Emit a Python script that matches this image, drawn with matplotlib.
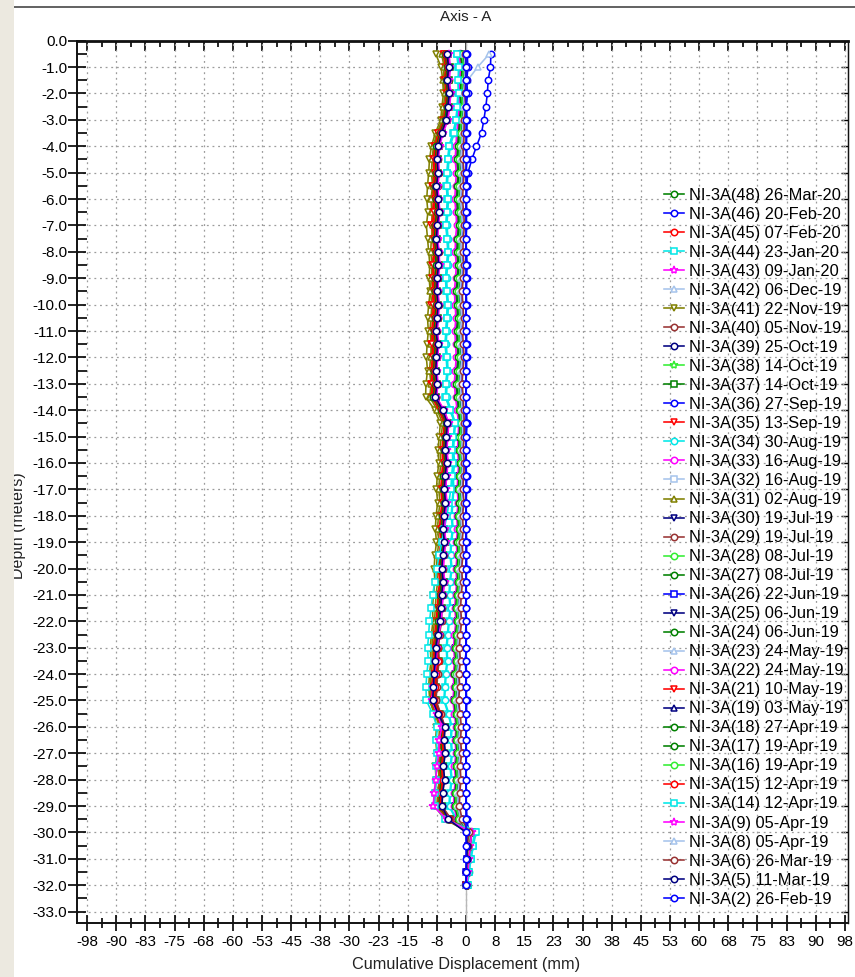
import numpy as np
import matplotlib.pyplot as plt
from matplotlib.patches import Rectangle
from matplotlib.lines import Line2D
from matplotlib.ticker import MultipleLocator, FixedLocator, FuncFormatter

plt.rcParams['font.family'] = ['Liberation Sans', 'DejaVu Sans']

# probe reading depths, m
depth = [0.5, 1.0, 1.5, 2.0, 2.5, 3.0, 3.5, 4.0, 4.5, 5.0, 5.5, 6.0, 6.5, 7.0, 7.5, 8.0,
         8.5, 9.0, 9.5, 10.0, 10.5, 11.0, 11.5, 12.0, 12.5, 13.0, 13.5, 14.0, 14.5, 15.0, 15.5, 16.0,
         16.5, 17.0, 17.5, 18.0, 18.5, 19.0, 19.5, 20.0, 20.5, 21.0, 21.5, 22.0, 22.5, 23.0, 23.5, 24.0,
         24.5, 25.0, 25.5, 26.0, 26.5, 27.0, 27.5, 28.0, 28.5, 29.0, 29.5, 30.0, 30.5, 31.0, 31.5, 32.0]

# cumulative displacement per reading, mm (top -> bottom)
s48 = [-5.8, -5.1, -4.7, -4.9, -5.2, -5.6, -7.0,
       -7.9, -8.1, -7.8, -8.3, -8.0, -7.7, -8.2, -8.4, -8.0, -7.8, -8.1, -8.3, -7.9, -8.2, -8.5, -8.1, -8.4, -8.6, -8.3, -8.7,
       -6.8, -5.4,
       -5.7, -6.0, -5.8, -6.1, -6.3, -6.0, -6.4, -6.6, -6.3, -6.7, -6.9, -6.6, -7.0, -7.2, -7.4,
       -7.8, -8.1, -7.9, -8.4, -8.7, -8.9, -7.4, -6.2,
       -6.5, -6.3, -6.7, -6.4, -6.8, -7.0, -4.8,
       1.4, 1.0, 0.7, 0.4, 0.2]
s46 = [6.4, 6.3, 5.7, 5.5, 5.1, 4.6, 4.0,
       2.7, 1.5, 0.5, 0.2, 0.1, 0.2, 0.0, 0.1, -0.1, 0.0, 0.2, 0.1, -0.1, 0.0, 0.1, 0.2, 0.0, -0.1, 0.1, 0.0,
       0.1, 0.2,
       0.1, 0.0, -0.1, 0.1, 0.2, 0.0, 0.1, -0.1, 0.0, 0.1, 0.2, 0.0, -0.1, 0.1, 0.0,
       0.1, 0.0, -0.1, 0.1, 0.0, 0.2, 0.1, 0.0,
       0.1, -0.1, 0.0, 0.1, 0.0, 0.1, 0.2,
       0.6, 0.4, 0.3, 0.1, 0.0]
s45 = [-5.4, -4.8, -5.2, -4.6, -5.0, -5.3, -6.8,
       -7.6, -7.9, -8.2, -7.8, -8.1, -8.4, -8.0, -7.7, -8.2, -8.5, -8.1, -7.9, -8.3, -8.0, -8.4, -8.6, -8.2, -8.5, -8.7, -8.4,
       -6.3, -4.9,
       -5.3, -5.5, -5.2, -5.6, -5.9, -5.7, -6.0, -6.2, -5.9, -6.3, -6.5, -6.2, -6.6, -6.8, -7.0,
       -7.3, -7.6, -7.4, -7.8, -8.0, -8.3, -7.0, -5.9,
       -6.2, -6.0, -6.4, -6.1, -6.5, -6.7, -4.2,
       1.2, 0.9, 0.6, 0.4, 0.2]
s44 = [-2.4, -2.0, -1.8, -2.1, -2.3, -2.6, -3.4,
       -4.4, -4.7, -4.9, -5.1, -4.8, -5.0, -5.2, -4.9, -4.7, -5.0, -5.3, -5.1, -4.8, -5.0, -5.2, -5.4, -5.1, -4.9, -5.2, -5.3,
       -4.1, -2.9,
       -3.2, -3.4, -3.1, -3.5, -3.3, -3.6, -3.8, -3.5, -3.9, -4.1, -3.8, -4.2, -4.4, -4.1, -4.5,
       -4.8, -5.1, -4.9, -5.3, -5.5, -5.7, -4.6, -3.8,
       -4.0, -3.7, -4.1, -3.8, -4.2, -4.4, -2.6,
       2.4, 1.8, 1.2, 0.8, 0.4]
s43 = [-1.2, -0.8, -1.0, -1.3, -1.1, -1.4, -1.7,
       -1.9, -2.1, -1.8, -2.0, -2.2, -1.9, -1.7, -2.0, -2.1, -1.8, -2.0, -2.3, -2.1, -1.9, -2.2, -2.0, -1.8, -2.1, -2.3, -2.0,
       -1.6, -1.2,
       -1.4, -1.6, -1.3, -1.5, -1.7, -1.4, -1.8, -1.6, -1.9, -1.7, -2.0, -1.8, -2.1, -2.3, -2.0,
       -2.4, -2.6, -2.3, -2.7, -2.5, -2.8, -2.4, -2.1,
       -2.3, -2.0, -2.4, -2.2, -2.5, -2.6, -1.8,
       1.0, 0.7, 0.5, 0.3, 0.1]
s42 = [6.0, 3.0, 0.4, -0.5, -0.8, -0.9, -1.2,
       -1.5, -1.7, -1.4, -1.6, -1.8, -1.5, -1.3, -1.6, -1.7, -1.4, -1.6, -1.9, -1.7, -1.5, -1.8, -1.6, -1.4, -1.7, -1.9, -1.6,
       -1.3, -1.0,
       -1.1, -1.3, -1.0, -1.2, -1.4, -1.1, -1.5, -1.3, -1.6, -1.4, -1.7, -1.5, -1.8, -2.0, -1.7,
       -2.0, -2.2, -1.9, -2.3, -2.1, -2.4, -2.0, -1.8,
       -2.0, -1.7, -2.1, -1.9, -2.2, -2.3, -1.5,
       1.1, 0.8, 0.5, 0.3, 0.1]
s41 = [-7.8, -6.4, -6.0, -5.8, -6.2, -6.5, -7.9,
       -8.9, -9.4, -9.6, -9.9, -10.1, -9.8, -10.2, -9.9, -9.6, -9.3, -9.5, -9.2, -9.6, -9.9, -9.7, -10.0, -10.2, -9.9, -10.3, -10.4,
       -8.0, -6.6,
       -6.9, -7.2, -7.0, -7.4, -7.6, -7.3, -7.7, -7.9, -7.6, -8.0, -8.2, -8.0, -8.4, -8.6, -8.5,
       -8.9, -9.2, -9.0, -9.4, -9.6, -9.3, -8.2, -7.6,
       -7.8, -7.5, -7.9, -7.7, -8.0, -8.1, -5.5,
       0.8, 0.5, 0.3, 0.2, 0.0]
s40 = [-5.0, -4.5, -4.3, -4.6, -4.9, -5.1, -6.4,
       -7.2, -7.5, -7.3, -7.7, -7.4, -7.6, -7.9, -7.5, -7.3, -7.7, -7.8, -7.5, -7.9, -7.6, -7.8, -8.0, -7.7, -7.9, -8.1, -7.8,
       -6.0, -4.8,
       -5.0, -5.2, -4.9, -5.3, -5.5, -5.2, -5.6, -5.8, -5.5, -5.9, -6.1, -5.8, -6.2, -6.4, -6.6,
       -7.0, -7.3, -7.1, -7.5, -7.7, -8.0, -6.8, -5.7,
       -6.0, -5.8, -6.2, -5.9, -6.3, -6.5, -4.0,
       1.3, 1.0, 0.7, 0.5, 0.3]
s39 = [-0.9, -0.6, -0.8, -1.0, -0.7, -1.0, -1.2,
       -1.4, -1.2, -1.5, -1.3, -1.6, -1.4, -1.2, -1.5, -1.3, -1.6, -1.4, -1.7, -1.5, -1.3, -1.6, -1.4, -1.7, -1.5, -1.8, -1.6,
       -1.4, -1.2,
       -1.3, -1.5, -1.2, -1.6, -1.4, -1.7, -1.5, -1.8, -1.6, -1.9, -1.7, -2.0, -1.8, -2.1, -2.2,
       -2.3, -2.5, -2.2, -2.6, -2.4, -2.7, -2.3, -2.0,
       -2.2, -2.0, -2.4, -2.1, -2.5, -2.6, -1.6,
       0.9, 0.6, 0.4, 0.2, 0.1]
s38 = [-1.6, -1.2, -1.5, -1.3, -1.7, -1.9, -2.2,
       -2.3, -2.5, -2.2, -2.4, -2.6, -2.3, -2.1, -2.4, -2.5, -2.2, -2.4, -2.7, -2.5, -2.3, -2.6, -2.4, -2.2, -2.5, -2.7, -2.4,
       -2.0, -1.7,
       -1.8, -2.0, -1.7, -1.9, -2.1, -1.8, -2.2, -2.0, -2.3, -2.1, -2.4, -2.2, -2.5, -2.7, -2.4,
       -2.8, -3.0, -2.7, -3.1, -2.9, -3.2, -2.8, -2.4,
       -2.6, -2.4, -2.8, -2.5, -2.9, -3.0, -2.1,
       1.2, 0.9, 0.6, 0.3, 0.1]
s37 = [-4.6, -4.2, -4.5, -4.0, -4.4, -4.8, -6.2,
       -7.0, -7.3, -7.1, -7.4, -7.2, -6.9, -7.3, -7.5, -7.1, -7.0, -7.3, -7.4, -7.1, -7.3, -7.6, -7.2, -7.5, -7.7, -7.4, -7.8,
       -5.9, -4.6,
       -4.9, -5.1, -4.8, -5.2, -5.4, -5.1, -5.5, -5.7, -5.4, -5.8, -6.0, -5.7, -6.1, -6.3, -6.4,
       -6.9, -7.2, -7.0, -7.4, -7.6, -7.8, -6.6, -5.5,
       -5.8, -5.6, -6.0, -5.7, -6.1, -6.3, -3.9,
       1.5, 1.1, 0.8, 0.5, 0.2]
s36 = [0.3, 0.5, 0.2, 0.4, 0.1, 0.3, 0.2,
       0.1, 0.3, 0.0, 0.2, 0.1, -0.1, 0.2, 0.0, 0.1, 0.3, 0.1, 0.0, 0.2, -0.1, 0.1, 0.0, 0.2, 0.1, -0.1, 0.0,
       0.1, 0.2,
       0.0, 0.1, -0.1, 0.2, 0.0, 0.1, -0.1, 0.0, 0.2, 0.1, -0.1, 0.0, 0.1, -0.2, 0.0,
       -0.1, 0.1, -0.2, 0.0, -0.1, 0.1, 0.0, 0.1,
       -0.1, 0.1, 0.0, -0.1, 0.1, 0.0, 0.2,
       0.7, 0.5, 0.3, 0.2, 0.0]
s35 = [-6.0, -5.3, -5.6, -5.1, -5.5, -5.9, -7.3,
       -8.2, -8.5, -8.3, -8.7, -8.4, -8.6, -8.9, -8.5, -8.3, -8.7, -8.8, -8.5, -8.9, -8.6, -8.8, -9.0, -8.7, -8.9, -9.1, -8.8,
       -7.0, -5.6,
       -5.9, -6.2, -6.0, -6.3, -6.5, -6.2, -6.6, -6.8, -6.5, -6.9, -7.1, -6.8, -7.2, -7.4, -7.7,
       -8.1, -8.4, -8.2, -8.6, -8.9, -9.1, -7.7, -6.5,
       -6.8, -6.6, -7.0, -6.7, -7.1, -7.3, -5.0,
       1.1, 0.8, 0.6, 0.3, 0.1]
s34 = [-1.9, -1.6, -2.0, -1.7, -2.0, -2.3, -3.0,
       -4.1, -4.4, -4.6, -4.8, -4.5, -4.7, -4.9, -4.6, -4.4, -4.7, -5.0, -4.8, -4.5, -4.7, -4.9, -5.1, -4.8, -4.6, -4.9, -5.0,
       -3.8, -2.7,
       -3.0, -3.2, -2.9, -3.3, -3.1, -3.4, -3.6, -3.3, -3.7, -3.9, -3.6, -4.0, -4.2, -3.9, -4.3,
       -4.6, -4.9, -4.7, -5.1, -5.3, -5.5, -4.4, -3.6,
       -3.8, -3.5, -3.9, -3.6, -4.0, -4.2, -2.4,
       2.2, 1.6, 1.1, 0.7, 0.3]
s33 = [-1.5, -1.1, -1.3, -1.6, -1.4, -1.7, -2.0,
       -2.2, -2.4, -2.1, -2.3, -2.5, -2.2, -2.0, -2.3, -2.4, -2.1, -2.3, -2.6, -2.4, -2.2, -2.5, -2.3, -2.1, -2.4, -2.6, -2.3,
       -1.9, -1.5,
       -1.7, -1.9, -1.6, -1.8, -2.0, -1.7, -2.1, -1.9, -2.2, -2.0, -2.3, -2.1, -2.4, -2.6, -2.3,
       -2.7, -2.9, -2.6, -3.0, -2.8, -3.1, -2.7, -2.3,
       -2.5, -2.3, -2.7, -2.4, -2.8, -2.9, -2.0,
       1.1, 0.8, 0.5, 0.3, 0.1]
s32 = [-0.7, -0.4, -0.6, -0.9, -0.7, -1.0, -1.3,
       -1.6, -1.8, -1.5, -1.7, -1.9, -1.6, -1.4, -1.7, -1.8, -1.5, -1.7, -2.0, -1.8, -1.6, -1.9, -1.7, -1.5, -1.8, -2.0, -1.7,
       -1.5, -1.3,
       -1.5, -1.7, -1.4, -1.6, -1.8, -1.5, -1.9, -1.7, -2.0, -1.8, -2.1, -1.9, -2.2, -2.4, -2.1,
       -2.5, -2.7, -2.4, -2.8, -2.6, -2.9, -2.5, -2.2,
       -2.4, -2.1, -2.5, -2.3, -2.6, -2.7, -1.9,
       1.0, 0.7, 0.4, 0.2, 0.0]
s31 = [-6.3, -5.6, -5.9, -5.4, -5.8, -6.1, -7.5,
       -8.4, -8.7, -8.9, -8.6, -9.0, -8.8, -8.5, -8.9, -9.1, -8.7, -8.9, -9.2, -8.8, -9.0, -9.3, -8.9, -9.1, -9.4, -9.0, -9.3,
       -7.4, -6.0,
       -6.4, -6.7, -6.5, -6.8, -7.0, -6.7, -7.1, -7.3, -7.0, -7.4, -7.6, -7.3, -7.7, -7.9, -8.1,
       -8.5, -8.8, -8.6, -9.0, -9.2, -9.4, -8.0, -6.8,
       -7.0, -6.8, -7.2, -6.9, -7.3, -7.5, -5.2,
       1.0, 0.7, 0.5, 0.3, 0.1]
s30 = [-1.0, -0.7, -0.9, -1.2, -1.0, -1.3, -1.5,
       -1.7, -1.9, -1.6, -1.8, -2.0, -1.7, -1.5, -1.8, -1.9, -1.6, -1.8, -2.1, -1.9, -1.7, -2.0, -1.8, -1.6, -1.9, -2.1, -1.8,
       -1.6, -1.3,
       -1.4, -1.6, -1.3, -1.5, -1.7, -1.4, -1.8, -1.6, -1.9, -1.7, -2.0, -1.8, -2.1, -2.3, -2.0,
       -2.4, -2.6, -2.3, -2.7, -2.5, -2.8, -2.4, -2.1,
       -2.3, -2.0, -2.4, -2.2, -2.5, -2.6, -1.7,
       0.8, 0.6, 0.4, 0.2, 0.0]
s29 = [-4.8, -4.4, -4.7, -4.2, -4.6, -5.0, -6.1,
       -6.9, -7.2, -7.0, -7.3, -7.1, -6.8, -7.2, -7.4, -7.0, -6.9, -7.2, -7.3, -7.0, -7.2, -7.5, -7.1, -7.4, -7.6, -7.3, -7.7,
       -5.7, -4.5,
       -4.8, -5.0, -4.7, -5.1, -5.3, -5.0, -5.4, -5.6, -5.3, -5.7, -5.9, -5.6, -6.0, -6.2, -6.3,
       -6.8, -7.1, -6.9, -7.3, -7.5, -7.7, -6.5, -5.4,
       -5.7, -5.5, -5.9, -5.6, -6.0, -6.2, -3.8,
       1.4, 1.0, 0.7, 0.4, 0.2]
s28 = [-0.5, -0.2, -0.4, -0.7, -0.5, -0.8, -1.0,
       -1.2, -1.4, -1.1, -1.3, -1.5, -1.2, -1.0, -1.3, -1.4, -1.1, -1.3, -1.6, -1.4, -1.2, -1.5, -1.3, -1.1, -1.4, -1.6, -1.3,
       -1.1, -0.9,
       -1.0, -1.2, -0.9, -1.1, -1.3, -1.0, -1.4, -1.2, -1.5, -1.3, -1.6, -1.4, -1.7, -1.9, -1.6,
       -2.0, -2.2, -1.9, -2.3, -2.1, -2.4, -2.0, -1.7,
       -1.9, -1.6, -2.0, -1.8, -2.1, -2.2, -1.4,
       0.9, 0.6, 0.4, 0.2, 0.0]
s27 = [-1.1, -0.8, -1.0, -1.3, -1.1, -1.4, -1.6,
       -1.8, -2.0, -1.7, -1.9, -2.1, -1.8, -1.6, -1.9, -2.0, -1.7, -1.9, -2.2, -2.0, -1.8, -2.1, -1.9, -1.7, -2.0, -2.2, -1.9,
       -1.7, -1.4,
       -1.5, -1.7, -1.4, -1.6, -1.8, -1.5, -1.9, -1.7, -2.0, -1.8, -2.1, -1.9, -2.2, -2.4, -2.1,
       -2.5, -2.7, -2.4, -2.8, -2.6, -2.9, -2.5, -2.2,
       -2.4, -2.1, -2.5, -2.3, -2.6, -2.7, -1.8,
       0.9, 0.7, 0.5, 0.2, 0.1]
s26 = [-0.3, 0.0, -0.2, -0.5, -0.3, -0.6, -0.8,
       -1.0, -1.2, -0.9, -1.1, -1.3, -1.0, -0.8, -1.1, -1.2, -0.9, -1.1, -1.4, -1.2, -1.0, -1.3, -1.1, -0.9, -1.2, -1.4, -1.1,
       -0.9, -0.7,
       -0.8, -1.0, -0.7, -0.9, -1.1, -0.8, -1.2, -1.0, -1.3, -1.1, -1.4, -1.2, -1.5, -1.7, -1.4,
       -1.8, -2.0, -1.7, -2.1, -1.9, -2.2, -1.8, -1.5,
       -1.7, -1.4, -1.8, -1.6, -1.9, -2.0, -1.2,
       0.8, 0.5, 0.3, 0.1, 0.0]
s25 = [-1.3, -1.0, -1.2, -1.5, -1.3, -1.6, -1.8,
       -2.0, -2.2, -1.9, -2.1, -2.3, -2.0, -1.8, -2.1, -2.2, -1.9, -2.1, -2.4, -2.2, -2.0, -2.3, -2.1, -1.9, -2.2, -2.4, -2.1,
       -1.8, -1.5,
       -1.6, -1.8, -1.5, -1.7, -1.9, -1.6, -2.0, -1.8, -2.1, -1.9, -2.2, -2.0, -2.3, -2.5, -2.2,
       -2.6, -2.8, -2.5, -2.9, -2.7, -3.0, -2.6, -2.3,
       -2.5, -2.2, -2.6, -2.4, -2.7, -2.8, -1.9,
       1.0, 0.7, 0.5, 0.3, 0.1]
s24 = [-5.2, -4.7, -5.0, -4.5, -4.8, -5.2, -6.6,
       -7.4, -7.7, -7.5, -7.9, -7.6, -7.3, -7.7, -7.9, -7.5, -7.4, -7.7, -7.8, -7.5, -7.7, -8.0, -7.6, -7.9, -8.1, -7.8, -8.2,
       -6.2, -5.0,
       -5.4, -5.6, -5.3, -5.7, -5.9, -5.6, -6.0, -6.2, -5.9, -6.3, -6.5, -6.2, -6.6, -6.8, -7.0,
       -7.4, -7.7, -7.5, -7.9, -8.2, -8.4, -7.1, -6.0,
       -6.3, -6.1, -6.5, -6.2, -6.6, -6.8, -4.5,
       1.3, 0.9, 0.6, 0.4, 0.2]
s23 = [-0.6, -0.3, -0.5, -0.8, -0.6, -0.9, -1.1,
       -1.3, -1.5, -1.2, -1.4, -1.6, -1.3, -1.1, -1.4, -1.5, -1.2, -1.4, -1.7, -1.5, -1.3, -1.6, -1.4, -1.2, -1.5, -1.7, -1.4,
       -1.2, -1.0,
       -1.2, -1.4, -1.1, -1.3, -1.5, -1.2, -1.6, -1.4, -1.7, -1.5, -1.8, -1.6, -1.9, -2.1, -1.8,
       -2.2, -2.4, -2.1, -2.5, -2.3, -2.6, -2.2, -1.9,
       -2.1, -1.8, -2.2, -2.0, -2.3, -2.4, -1.6,
       1.0, 0.7, 0.4, 0.2, 0.0]
s22 = [-1.8, -1.4, -1.6, -1.9, -1.7, -2.0, -2.4,
       -2.6, -2.8, -2.5, -2.7, -2.9, -2.6, -2.4, -2.7, -2.8, -2.5, -2.7, -3.0, -2.8, -2.6, -2.9, -2.7, -2.5, -2.8, -3.0, -2.7,
       -2.3, -1.9,
       -2.0, -2.2, -1.9, -2.1, -2.3, -2.0, -2.4, -2.2, -2.5, -2.3, -2.6, -2.4, -2.7, -2.9, -2.6,
       -3.0, -3.2, -2.9, -3.3, -3.1, -3.4, -3.0, -2.6,
       -2.8, -2.6, -3.0, -2.7, -3.1, -3.2, -2.3,
       1.2, 0.9, 0.6, 0.3, 0.1]
s21 = [-5.6, -5.0, -5.4, -4.8, -5.2, -5.5, -7.1,
       -7.9, -8.2, -8.0, -8.4, -8.1, -8.3, -8.6, -8.2, -8.0, -8.4, -8.5, -8.2, -8.6, -8.3, -8.5, -8.7, -8.4, -8.6, -8.8, -8.5,
       -6.6, -5.2,
       -5.6, -5.9, -5.7, -6.0, -6.2, -5.9, -6.3, -6.5, -6.2, -6.6, -6.8, -6.5, -6.9, -7.1, -7.3,
       -7.7, -8.0, -7.8, -8.2, -8.5, -8.7, -7.3, -6.1,
       -6.4, -6.2, -6.6, -6.3, -6.7, -6.9, -4.6,
       1.2, 0.9, 0.6, 0.4, 0.1]
s19 = [-0.8, -0.5, -0.7, -1.0, -0.8, -1.1, -1.3,
       -1.5, -1.7, -1.4, -1.6, -1.8, -1.5, -1.3, -1.6, -1.7, -1.4, -1.6, -1.9, -1.7, -1.5, -1.8, -1.6, -1.4, -1.7, -1.9, -1.6,
       -1.4, -1.1,
       -1.3, -1.5, -1.2, -1.4, -1.6, -1.3, -1.7, -1.5, -1.8, -1.6, -1.9, -1.7, -2.0, -2.2, -1.9,
       -2.3, -2.5, -2.2, -2.6, -2.4, -2.7, -2.3, -2.0,
       -2.2, -1.9, -2.3, -2.1, -2.4, -2.5, -1.7,
       0.9, 0.6, 0.4, 0.2, 0.0]
s18 = [-5.3, -4.9, -5.1, -4.7, -5.0, -5.4, -6.7,
       -7.6, -7.8, -7.6, -8.0, -7.7, -7.5, -7.9, -8.1, -7.7, -7.6, -7.9, -8.0, -7.7, -7.9, -8.2, -7.8, -8.1, -8.3, -8.0, -8.4,
       -6.4, -5.1,
       -5.5, -5.7, -5.4, -5.8, -6.0, -5.7, -6.1, -6.3, -6.0, -6.4, -6.6, -6.3, -6.7, -6.9, -7.1,
       -7.5, -7.8, -7.6, -8.0, -8.3, -8.5, -7.2, -6.1,
       -6.4, -6.2, -6.6, -6.3, -6.7, -6.9, -4.4,
       1.3, 0.9, 0.6, 0.4, 0.2]
s17 = [-1.4, -1.0, -1.2, -1.5, -1.3, -1.6, -1.9,
       -2.1, -2.3, -2.0, -2.2, -2.4, -2.1, -1.9, -2.2, -2.3, -2.0, -2.2, -2.5, -2.3, -2.1, -2.4, -2.2, -2.0, -2.3, -2.5, -2.2,
       -1.9, -1.6,
       -1.7, -1.9, -1.6, -1.8, -2.0, -1.7, -2.1, -1.9, -2.2, -2.0, -2.3, -2.1, -2.4, -2.6, -2.3,
       -2.7, -2.9, -2.6, -3.0, -2.8, -3.1, -2.7, -2.4,
       -2.6, -2.3, -2.7, -2.5, -2.8, -2.9, -2.0,
       1.0, 0.7, 0.5, 0.2, 0.1]
s16 = [-1.0, -0.6, -0.9, -1.1, -0.9, -1.2, -1.4,
       -1.6, -1.8, -1.5, -1.7, -1.9, -1.6, -1.4, -1.7, -1.8, -1.5, -1.7, -2.0, -1.8, -1.6, -1.9, -1.7, -1.5, -1.8, -2.0, -1.7,
       -1.5, -1.2,
       -1.4, -1.6, -1.3, -1.5, -1.7, -1.4, -1.8, -1.6, -1.9, -1.7, -2.0, -1.8, -2.1, -2.3, -2.0,
       -2.4, -2.6, -2.3, -2.7, -2.5, -2.8, -2.4, -2.1,
       -2.3, -2.0, -2.4, -2.2, -2.5, -2.6, -1.7,
       0.9, 0.6, 0.4, 0.2, 0.0]
s15 = [-5.1, -4.6, -4.9, -4.4, -4.7, -5.1, -6.5,
       -7.3, -7.6, -7.4, -7.8, -7.5, -7.2, -7.6, -7.8, -7.4, -7.3, -7.6, -7.7, -7.4, -7.6, -7.9, -7.5, -7.8, -8.0, -7.7, -8.1,
       -6.1, -4.9,
       -5.2, -5.4, -5.1, -5.5, -5.7, -5.4, -5.8, -6.0, -5.7, -6.1, -6.3, -6.0, -6.4, -6.6, -6.8,
       -7.2, -7.5, -7.3, -7.7, -7.9, -8.2, -6.9, -5.8,
       -6.1, -5.9, -6.3, -6.0, -6.4, -6.6, -4.3,
       1.4, 1.0, 0.7, 0.4, 0.2]
s14 = [-2.2, -1.8, -2.1, -1.9, -2.2, -2.5, -3.2,
       -4.3, -4.6, -4.8, -5.0, -4.7, -4.9, -5.1, -4.8, -4.6, -4.9, -5.2, -5.0, -4.7, -4.9, -5.1, -5.3, -5.0, -4.8, -5.1, -5.2,
       -4.0, -2.8,
       -3.3, -3.5, -3.4, -3.7, -3.9, -4.4, -4.9, -5.6, -6.2, -6.9, -7.5, -8.0, -8.6, -9.0, -9.4,
       -9.6, -9.9, -9.7, -10.1, -10.3, -10.2, -8.6, -7.4,
       -7.6, -7.4, -7.8, -7.6, -7.9, -8.1, -5.3,
       2.6, 1.9, 1.3, 0.8, 0.4]
s9 = [-4.4, -4.0, -4.3, -3.9, -4.2, -4.6, -5.9,
      -6.8, -7.1, -6.9, -7.2, -7.0, -6.7, -7.1, -7.3, -6.9, -6.8, -7.1, -7.2, -6.9, -7.1, -7.4, -7.0, -7.3, -7.5, -7.2, -7.6,
      -5.6, -4.4,
      -4.7, -4.9, -4.6, -5.0, -5.2, -4.9, -5.3, -5.5, -5.2, -5.6, -5.8, -5.5, -5.9, -6.1, -6.4,
      -7.0, -7.5, -7.6, -8.1, -8.5, -8.8, -7.4, -6.2,
      -6.9, -7.0, -7.5, -7.8, -8.2, -8.4, -5.0,
      1.5, 1.1, 0.8, 0.5, 0.2]
s8 = [-0.4, -0.1, -0.3, -0.6, -0.4, -0.7, -0.9,
      -1.1, -1.3, -1.0, -1.2, -1.4, -1.1, -0.9, -1.2, -1.3, -1.0, -1.2, -1.5, -1.3, -1.1, -1.4, -1.2, -1.0, -1.3, -1.5, -1.2,
      -1.0, -0.8,
      -0.9, -1.1, -0.8, -1.0, -1.2, -0.9, -1.3, -1.1, -1.4, -1.2, -1.5, -1.3, -1.6, -1.8, -1.5,
      -1.9, -2.1, -1.8, -2.2, -2.0, -2.3, -1.9, -1.6,
      -1.8, -1.5, -1.9, -1.7, -2.0, -2.1, -1.3,
      0.8, 0.5, 0.3, 0.1, 0.0]
s6 = [-0.2, 0.1, -0.1, -0.3, -0.1, -0.4, -0.5,
      -0.6, -0.8, -0.5, -0.7, -0.9, -0.6, -0.4, -0.7, -0.8, -0.5, -0.7, -1.0, -0.8, -0.6, -0.9, -0.7, -0.5, -0.8, -1.0, -0.7,
      -0.6, -0.4,
      -0.5, -0.7, -0.4, -0.6, -0.8, -0.5, -0.9, -0.7, -1.0, -0.8, -1.1, -0.9, -1.2, -1.4, -1.1,
      -1.5, -1.7, -1.4, -1.8, -1.6, -1.9, -1.5, -1.2,
      -1.4, -1.1, -1.5, -1.3, -1.6, -1.7, -1.0,
      0.7, 0.4, 0.2, 0.1, 0.0]
s5 = [-4.9, -4.5, -4.8, -4.3, -4.7, -5.1, -6.3,
      -7.1, -7.4, -7.2, -7.6, -7.3, -7.0, -7.4, -7.6, -7.2, -7.1, -7.4, -7.5, -7.2, -7.4, -7.7, -7.3, -7.6, -7.8, -7.5, -7.9,
      -6.0, -4.8,
      -5.1, -5.3, -5.0, -5.4, -5.6, -5.3, -5.7, -5.9, -5.6, -6.0, -6.2, -5.9, -6.3, -6.5, -6.8,
      -7.3, -7.7, -7.9, -8.2, -8.4, -8.6, -7.2, -5.4,
      -5.6, -5.3, -5.8, -5.5, -6.0, -6.2, -4.6,
      0.0, 0.3, 0.2, 0.1, 0.0]
# base reading, all zero
s2 = [0.0, 0.0, 0.0, 0.0, 0.0, 0.0, 0.0, 0.0, 0.0, 0.0, 0.0, 0.0, 0.0, 0.0, 0.0, 0.0,
      0.0, 0.0, 0.0, 0.0, 0.0, 0.0, 0.0, 0.0, 0.0, 0.0, 0.0, 0.0, 0.0, 0.0, 0.0, 0.0,
      0.0, 0.0, 0.0, 0.0, 0.0, 0.0, 0.0, 0.0, 0.0, 0.0, 0.0, 0.0, 0.0, 0.0, 0.0, 0.0,
      0.0, 0.0, 0.0, 0.0, 0.0, 0.0, 0.0, 0.0, 0.0, 0.0, 0.0, 0.0, 0.0, 0.0, 0.0, 0.0]

labels = ['NI-3A(48) 26-Mar-20', 'NI-3A(46) 20-Feb-20', 'NI-3A(45) 07-Feb-20', 'NI-3A(44) 23-Jan-20',
          'NI-3A(43) 09-Jan-20', 'NI-3A(42) 06-Dec-19', 'NI-3A(41) 22-Nov-19', 'NI-3A(40) 05-Nov-19',
          'NI-3A(39) 25-Oct-19', 'NI-3A(38) 14-Oct-19', 'NI-3A(37) 14-Oct-19', 'NI-3A(36) 27-Sep-19',
          'NI-3A(35) 13-Sep-19', 'NI-3A(34) 30-Aug-19', 'NI-3A(33) 16-Aug-19', 'NI-3A(32) 16-Aug-19',
          'NI-3A(31) 02-Aug-19', 'NI-3A(30) 19-Jul-19', 'NI-3A(29) 19-Jul-19', 'NI-3A(28) 08-Jul-19',
          'NI-3A(27) 08-Jul-19', 'NI-3A(26) 22-Jun-19', 'NI-3A(25) 06-Jun-19', 'NI-3A(24) 06-Jun-19',
          'NI-3A(23) 24-May-19', 'NI-3A(22) 24-May-19', 'NI-3A(21) 10-May-19', 'NI-3A(19) 03-May-19',
          'NI-3A(18) 27-Apr-19', 'NI-3A(17) 19-Apr-19', 'NI-3A(16) 19-Apr-19', 'NI-3A(15) 12-Apr-19',
          'NI-3A(14) 12-Apr-19', 'NI-3A(9) 05-Apr-19', 'NI-3A(8) 05-Apr-19', 'NI-3A(6) 26-Mar-19',
          'NI-3A(5) 11-Mar-19', 'NI-3A(2) 26-Feb-19']
readings = [s48, s46, s45, s44, s43, s42, s41, s40, s39, s38, s37, s36, s35, s34, s33, s32, s31, s30, s29,
            s28, s27, s26, s25, s24, s23, s22, s21, s19, s18, s17, s16, s15, s14, s9, s8, s6, s5, s2]

GREEN, BLUE, RED, CYAN, MAG = '#008000', '#0000ff', '#ff0000', '#00e8e8', '#ff00ff'
LBLUE, OLIVE, DRED, NAVY, LIME = '#a6c4ec', '#808000', '#993333', '#000080', '#33ee33'
colors = [GREEN, BLUE, RED, CYAN, MAG, LBLUE, OLIVE, DRED, NAVY, LIME, GREEN, BLUE, RED, CYAN, MAG, LBLUE,
          OLIVE, NAVY, DRED, LIME, GREEN, BLUE, NAVY, GREEN, LBLUE, MAG, RED, NAVY, GREEN, GREEN, LIME, RED,
          CYAN, MAG, LBLUE, DRED, NAVY, BLUE]
markers = ['o', 'o', 'o', 's', '*', '^', 'v', 'o', 'o', '*', 's', 'o', 'v', 'o', 'o', 's',
           '^', 'v', 'o', 'o', 'o', 's', 'v', 'o', '^', 'o', 'v', '^', 'o', 'o', 'o', 'o',
           's', '*', '^', 'o', 'o', 'o']

W, H = 855, 977
fig = plt.figure(figsize=(W / 100, H / 100), dpi=100)
fig.patch.set_facecolor('white')

ax = fig.add_axes([77 / W, 1 - 922.7 / H, (848 - 77) / W, (922.7 - 40.7) / H])
ax.set_xlim(-100.1, 98.3)
ax.set_ylim(-33.42, 0)

ax.axvline(0, color='#b8b8b8', lw=1, zorder=1)

neg_depth = [-d for d in depth]
for vals, lab, col, mk in zip(readings, labels, colors, markers):
    ms = 6 if mk == '*' else 4.6
    ax.plot(vals, neg_depth, color=col, lw=1.15, marker=mk, ms=ms, mfc='white', mec=col, mew=1.1,
            label=lab, zorder=3)

# x ticks every 7.5 mm, labels rounded half away from zero
xt = np.arange(-97.5, 97.6, 7.5)
xminor = np.arange(-93.75, 97.6, 7.5)
ax.xaxis.set_major_locator(FixedLocator(xt))
ax.xaxis.set_minor_locator(FixedLocator(xminor))
ax.xaxis.set_major_formatter(FuncFormatter(lambda v, p: str(int(np.sign(v) * np.floor(abs(v) + 0.5)))))
ax.yaxis.set_major_locator(MultipleLocator(1.0))
ax.yaxis.set_minor_locator(MultipleLocator(0.5))
ax.yaxis.set_major_formatter(FuncFormatter(lambda v, p: f"{v:.1f}" if abs(v) > 1e-9 else "0.0"))

ax.tick_params(axis='x', which='major', direction='inout', length=11, width=1.2, labelsize=11, pad=3.5,
               labelfontfamily=['Liberation Sans Narrow', 'Liberation Sans'])
ax.tick_params(axis='x', which='minor', direction='inout', length=7, width=1.2)
ax.tick_params(axis='y', which='major', direction='inout', length=13, width=1.2, labelsize=11, pad=0.5)
ax.tick_params(axis='y', which='minor', direction='in', length=7, width=1.2)

ax.grid(True, which='major', color='#9c9c9c', linestyle=(0, (1.5, 3)), linewidth=0.9)
ax.set_axisbelow(True)

for side, lw in [('top', 2.0), ('left', 1.4), ('bottom', 1.4), ('right', 1.0)]:
    ax.spines[side].set_linewidth(lw)
    ax.spines[side].set_color('#111111')

top = ax.secondary_xaxis('top')
top.xaxis.set_major_locator(FixedLocator(xt))
top.xaxis.set_minor_locator(FixedLocator(xminor))
top.tick_params(which='both', direction='in', labeltop=False, width=1.2)
top.tick_params(which='major', length=7)
top.tick_params(which='minor', length=4)

right = ax.secondary_yaxis('right')
right.yaxis.set_major_locator(MultipleLocator(1.0))
right.tick_params(which='major', direction='in', length=5, width=1.0, labelright=False)
right.tick_params(which='minor', length=0)

ax.legend(loc='upper left', bbox_to_anchor=(664 / W, 1 - 188 / H), bbox_transform=fig.transFigure,
          frameon=False, fontsize=11.8, handlelength=1.25, handletextpad=0.3, labelspacing=0.245,
          borderpad=0, borderaxespad=0, numpoints=1)

fig.text(466 / W, 1 - 17 / H, 'Axis - A', ha='center', va='center', fontsize=11, color='#222222')
fig.text(466 / W, 1 - 965 / H, 'Cumulative Displacement (mm)', ha='center', va='center', fontsize=11.7,
         color='#222222')
fig.text(18 / W, 1 - 526 / H, 'Depth (meters)', ha='center', va='center', rotation=90, fontsize=11.5,
         color='#222222')

# panel frame: beige strip on the left and rule along the top
fig.patches.append(Rectangle((0, 0), 14 / W, 1, transform=fig.transFigure, facecolor='#ece9e0',
                             edgecolor='none', zorder=10))
fig.lines.append(Line2D([14 / W, 1], [1 - 7 / H, 1 - 7 / H], transform=fig.transFigure, color='#555555',
                        lw=1.3, zorder=10))

fig.savefig('out.png', dpi=100)
